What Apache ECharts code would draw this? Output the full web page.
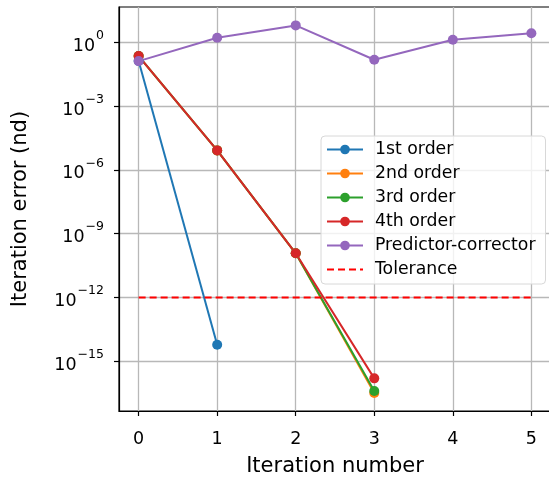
<!DOCTYPE html>
<html>
<head>
<meta charset="utf-8">
<script src="https://cdn.jsdelivr.net/npm/echarts@6/dist/echarts.min.js"></script>
<style>
  html, body { margin: 0; padding: 0; background: #fff; }
  #chart { width: 549px; height: 478px; }
</style>
</head>
<body>
<div id="chart"></div>
<script>
// Convergence of the iteration error for each scheme
const iterations = [0, 1, 2, 3, 4, 5];
const firstOrder = [0.13, 6.1e-15];
const secondOrder = [0.22, 8.2e-6, 1.2e-10, 3.3e-17];
const thirdOrder = [0.22, 8.2e-6, 1.2e-10, 4.1e-17];
const fourthOrder = [0.22, 8.2e-6, 1.2e-10, 1.6e-16];
const predictorCorrector = [0.128, 1.61, 6.1, 0.149, 1.3, 2.6];
const tolerance = 1e-12;
const toleranceSpan = [0, 5];

const seriesNames = ['1st order', '2nd order', '3rd order', '4th order', 'Predictor-corrector', 'Tolerance'];
const seriesColors = ['#1f77b4', '#ff7f0e', '#2ca02c', '#d62728', '#9467bd', '#ff0000'];
const yTickValues = [1e-15, 1e-12, 1e-9, 1e-6, 1e-3, 1];
const xTickValues = [0, 1, 2, 3, 4, 5];

const FONT = 'DejaVu Sans';

function pairs(values) {
  return values.map((v, i) => [iterations[i], v]);
}

function lineSeries(name, values, color) {
  return {
    name: name,
    type: 'line',
    data: pairs(values),
    symbol: 'circle',
    symbolSize: 10,
    showSymbol: true,
    itemStyle: { color: color },
    lineStyle: { color: color, width: 2 },
    emphasis: { disabled: true },
    animation: false
  };
}

// "10" with the exponent set as a raised superscript
function supLabel(v) {
  const e = Math.round(Math.log10(v));
  const s = e < 0 ? '\u2212' + Math.abs(e) : String(e);
  return '{b|10}{s|' + s + '}';
}

const chart = echarts.init(document.getElementById('chart'), null, { renderer: 'canvas' });

chart.setOption({
  animation: false,
  backgroundColor: '#ffffff',
  textStyle: { fontFamily: FONT },
  grid: {
    left: 119, top: 7, right: -2, bottom: 67,
    outerBoundsMode: 'none',
    containLabel: false,
    show: true, borderColor: '#000', borderWidth: 1.2
  },
  legend: {
    orient: 'vertical',
    left: 321, top: 136,
    padding: [5, 10, 6, 5],
    itemWidth: 36, itemHeight: 12, itemGap: 7,
    backgroundColor: 'rgba(255,255,255,0.8)',
    borderColor: '#d8d8d8', borderWidth: 1, borderRadius: 4,
    textStyle: { fontFamily: FONT, fontSize: 17.3, color: '#000', padding: [0, 0, 0, 7] },
    data: seriesNames.map((n, i) => i === 5 ? { name: n, itemStyle: { opacity: 0 } } : n)
  },
  xAxis: {
    type: 'value',
    min: -0.25, max: 5.25,
    name: 'Iteration number',
    nameLocation: 'middle',
    nameGap: 45,
    nameTextStyle: { fontFamily: FONT, fontSize: 21, color: '#000' },
    axisLine: { show: true, onZero: false, lineStyle: { color: '#000', width: 1.2 } },
    axisTick: { show: true, length: 5, customValues: xTickValues, lineStyle: { color: '#000', width: 1.2 } },
    axisLabel: { customValues: xTickValues, fontFamily: FONT, fontSize: 17.5, color: '#000', margin: 19 },
    splitLine: { show: true, lineStyle: { color: '#b8b8b8', width: 1.3 } }
  },
  yAxis: {
    type: 'log',
    logBase: 10,
    min: Math.pow(10, -17.33),
    max: Math.pow(10, 1.65),
    name: 'Iteration error (nd)',
    nameLocation: 'middle',
    nameGap: 88,
    nameTextStyle: { fontFamily: FONT, fontSize: 21, color: '#000' },
    axisLine: { show: true, onZero: false, lineStyle: { color: '#000', width: 1.2 } },
    axisTick: { show: true, length: 5, customValues: yTickValues, lineStyle: { color: '#000', width: 1.2 } },
    axisLabel: {
      customValues: yTickValues,
      margin: 15,
      formatter: supLabel,
      rich: {
        b: { fontFamily: FONT, fontSize: 17.5, color: '#000', lineHeight: 26, verticalAlign: 'bottom' },
        s: { fontFamily: FONT, fontSize: 12.5, color: '#000', lineHeight: 26, verticalAlign: 'top', padding: [0, 0, 0, 1] }
      }
    },
    splitLine: { show: true, lineStyle: { color: '#b8b8b8', width: 1.3 } },
    minorTick: { show: false },
    minorSplitLine: { show: false }
  },
  series: [
    lineSeries(seriesNames[0], firstOrder, seriesColors[0]),
    lineSeries(seriesNames[1], secondOrder, seriesColors[1]),
    lineSeries(seriesNames[2], thirdOrder, seriesColors[2]),
    lineSeries(seriesNames[3], fourthOrder, seriesColors[3]),
    lineSeries(seriesNames[4], predictorCorrector, seriesColors[4]),
    {
      name: seriesNames[5],
      type: 'line',
      data: toleranceSpan.map(x => [x, tolerance]),
      symbol: 'none',
      itemStyle: { color: seriesColors[5] },
      lineStyle: { color: seriesColors[5], width: 2, type: [7, 4] },
      emphasis: { disabled: true },
      animation: false
    }
  ]
});
</script>
</body>
</html>
